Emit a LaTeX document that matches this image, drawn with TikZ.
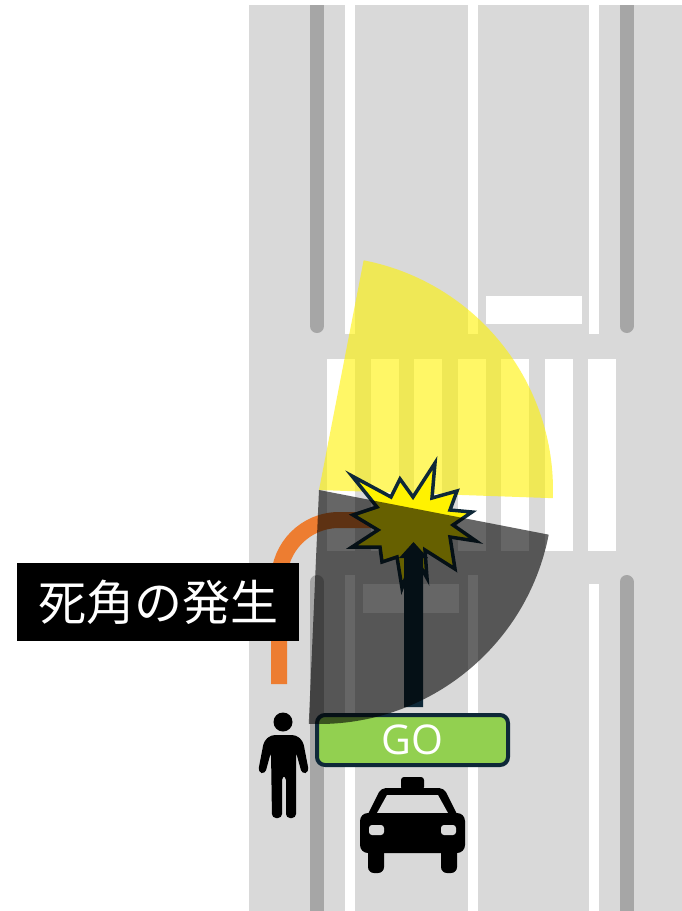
\documentclass[tikz,border=0pt]{standalone}
\usepackage{fontspec}
\setmainfont{Open Sans}
\newfontfamily\jpfont{Noto Sans CJK JP}

\definecolor{roadgray}{HTML}{D9D9D9}
\definecolor{curbgray}{HTML}{A6A6A6}
\definecolor{turnorange}{HTML}{ED7D31}
\definecolor{signgreen}{HTML}{92D050}
\definecolor{navy}{HTML}{0E2838}

\begin{document}
\begin{tikzpicture}[x=1pt,y=-1pt,
    curb/.style={curbgray,line width=14,line cap=round},
    lane/.style={white,line width=10},
    sight/.style={yellow,fill opacity=0.6},
    blind/.style={black,fill opacity=0.6},
    gobox/.style={draw=navy,line width=4,fill=signgreen,rounded corners=8,
      minimum width=191pt,minimum height=50pt,inner sep=0pt,text=white,
      font=\fontsize{41}{48}\selectfont},
    tag/.style={fill=black,text=white,minimum width=282pt,minimum height=78pt,
      inner sep=0pt,font=\jpfont\fontsize{48}{56}\selectfont}]
  \useasboundingbox (0,0) rectangle (682,911);
  \def\r{234}

  % 道路
  \fill[roadgray] (249,5) rectangle (682,911);
  \begin{scope}
    \clip (249,5) rectangle (682,911);
    \draw[curb] (317,-10) -- (317,326);
    \draw[curb] (626.5,-10) -- (626.5,326);
    \draw[curb] (317,582) -- (317,930);
    \draw[curb] (626.5,582) -- (626.5,930);
  \end{scope}
  \draw[lane] (350,5) -- (350,334);
  \draw[lane] (472.5,5) -- (472.5,334);
  \draw[lane] (594,5) -- (594,334);
  \draw[lane] (350,575) -- (350,911);
  \draw[lane] (472.5,575) -- (472.5,911);
  \draw[lane] (594,584) -- (594,911);

  % 停止線
  \fill[white] (486,296) rectangle (582,324);
  \fill[white] (363,584) rectangle (459,613);

  % 横断歩道
  \foreach \i in {0,...,6}
    \fill[white] (327+43.5*\i,359) rectangle ++(28,192);

  % 右折の軌跡
  \draw[turnorange,line width=16] (279,684) -- (279,580)
    arc[start angle=180,end angle=270,radius=60] -- (385,520);

  % 見える範囲
  \fill[sight] (319,490) -- ++(2:\r) arc[start angle=2,end angle=-79,radius=\r] -- cycle;

  % 衝突
  \filldraw[fill=yellow,draw=navy,line width=3.5]
    (352,476) -- (391,497) -- (400,479) -- (413,497) -- (435,463) -- (432,498)
    -- (457,491) -- (450,510) -- (472,512) -- (453,525) -- (476,541) -- (450,537)
    -- (455,569) -- (425,550) -- (427,578) -- (414,555) -- (402,588) -- (397,557)
    -- (382,562) -- (380,547) -- (352,547) -- (378,530) -- (353,515) -- (377,507)
    -- cycle;

  % 車の進路
  \fill[navy] (404,707) -- (404,558) -- (399,558) -- (413.5,542) -- (428,558)
    -- (423,558) -- (423,707) -- cycle;

  % 信号
  \node[gobox] (go) at (412.5,740) {\raisebox{-2pt}{GO}};

  % 死角
  \fill[blind] (319,490) -- ++(11:\r) arc[start angle=11,end angle=92.5,radius=\r] -- cycle;

  % 歩行者
  \fill (283,722) circle[radius=9.5];
  \fill[rounded corners=4] (258,772) -- (264,741) -- (271,735) -- (296,735)
    -- (303,741) -- (309,772) -- (302,774) -- (296,752) -- (296,818) -- (286,818)
    -- (286,776) -- (282,776) -- (282,818) -- (272,818) -- (271,752) -- (265,774)
    -- cycle;

  % タクシー
  \fill[rounded corners=3] (401,790) -- (401,777) -- (424,777) -- (424,790) -- cycle;
  \fill[rounded corners=5] (366,818) -- (381,788) -- (444,788) -- (459,818) -- cycle;
  \fill[roadgray] (377,813) -- (387,795) -- (438,795) -- (448,813) -- cycle;
  \fill[rounded corners=8] (360,813) rectangle (465,853);
  \fill[rounded corners=6] (368,845) rectangle (384,873);
  \fill[rounded corners=6] (441,845) rectangle (457,873);
  \fill[roadgray,rounded corners=3] (369,825) rectangle (384,835);
  \fill[roadgray,rounded corners=3] (441,825) rectangle (456,835);

  % 見出し
  \node[tag] (label) at (158,602) {死角の発生};
\end{tikzpicture}
\end{document}
